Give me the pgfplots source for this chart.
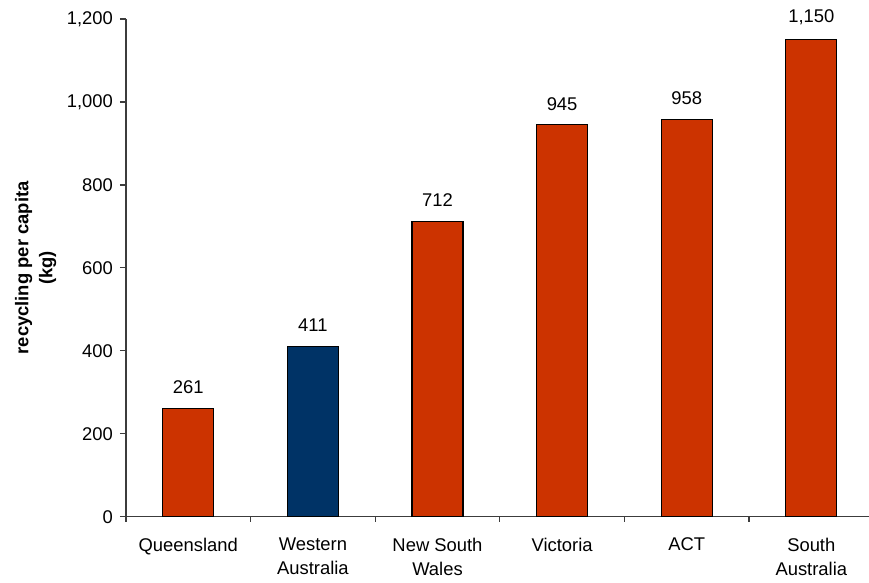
\documentclass[border=0pt]{standalone}
\usepackage{pgfplots}
\pgfplotsset{compat=1.18}
\usepackage{fontspec}
\setmainfont{Liberation Sans}

\definecolor{barred}{HTML}{CC3300}
\definecolor{barblue}{HTML}{003366}
\definecolor{axisgray}{HTML}{3C3C3C}

\newcommand{\chartfont}{\fontsize{9.2}{12}\selectfont}

\begin{document}
\begin{tikzpicture}
\begin{axis}[
  scale only axis,
  width=371.5pt, height=248.9pt,
  xmin=-0.5, xmax=5.463,
  ymin=0, ymax=1200,
  axis x line*=bottom, axis y line*=left,
  axis line style={-, draw=axisgray, line width=0.6pt},
  ytick={0,200,...,1200},
  scaled y ticks=false,
  yticklabel style={font=\chartfont, /pgf/number format/1000 sep={,}},
  /pgf/number format/assume math mode=true,
  xtick={0,...,5},
  xticklabels={Queensland, {Western\\Australia}, {New South\\Wales}, Victoria, ACT, {South\\Australia}},
  xticklabel style={font=\chartfont, align=center, yshift=-4pt},
  major x tick style={draw=none},
  minor xtick={-0.5,0.5,1.5,2.5,3.5,4.5},
  minor tick length=2.5pt,
  major tick length=3pt,
  tick align=outside,
  tick style={draw=axisgray, line width=0.6pt},
  ylabel={\bfseries recycling per capita\\\bfseries (kg)},
  ylabel style={font=\chartfont, align=center, at={(axis description cs:-0.1215,0.5)}, anchor=center},
  ybar, bar width=25.5pt, bar shift=0pt,
  nodes near coords,
  point meta=y,
  every node near coord/.append style={font=\chartfont, anchor=south, inner sep=0pt, yshift=7pt, text=black,
    /pgf/number format/1000 sep={,}},
]
\addplot[fill=barred, draw=black, line width=0.55pt]
  coordinates {(0,261) (2,712) (3,945) (4,958) (5,1150)};
\addplot[fill=barblue, draw=black, line width=0.55pt]
  coordinates {(1,411)};
\end{axis}
\pgfresetboundingbox
\useasboundingbox (-63pt,-32.7pt) rectangle (371.5pt,258.4pt);
\end{tikzpicture}
\end{document}
